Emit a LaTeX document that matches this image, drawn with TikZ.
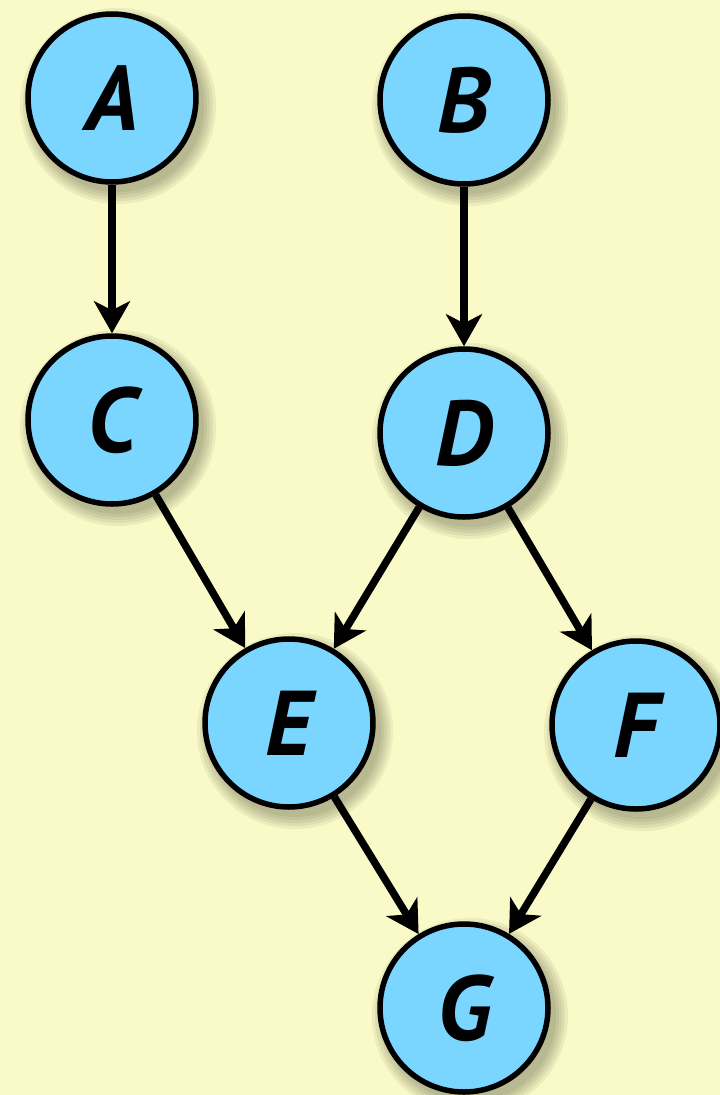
\documentclass[tikz,border=0pt]{standalone}
\usepackage{fontspec}
\setmainfont{PT Sans}
\usetikzlibrary{arrows.meta}
\definecolor{bgcol}{RGB}{250,250,200}
\definecolor{nodecol}{RGB}{122,213,255}
\tikzset{
  vertex/.style={circle, draw=black, line width=5.5pt, fill=nodecol, minimum size=168pt, inner sep=0pt,
    font=\fontsize{92}{92}\selectfont\bfseries\itshape},
  link/.style={line width=7.5pt, -{Stealth[length=32pt,width=36pt,inset=9pt]}, shorten >=0pt}
}
\begin{document}
\begin{tikzpicture}[x=1pt,y=-1pt]
\fill[bgcol] (0,0) rectangle (720,1095);
\useasboundingbox (0,0) rectangle (720,1095);
% soft shadows
\foreach \cx/\cy in {112/98,464/100,112/420,464/433,289/723,636/725,464/1008}{
  \foreach \r in {98,95,92,89,86}{
    \fill[black!70!olive,opacity=0.08] (\cx+6,\cy+8) circle[radius=\r];
  }
}
\node[vertex] (A) at (112,98) {A};
\node[vertex] (B) at (464,100) {B};
\node[vertex] (C) at (112,420) {C};
\node[vertex] (D) at (464,433) {D};
\node[vertex] (E) at (289,723) {E};
\node[vertex] (F) at (636,725) {F};
\node[vertex] (G) at (464,1008) {G};
\draw[link] (A) -- (C);
\draw[link] (B) -- (D);
\draw[link] (C) -- (E);
\draw[link] (D) -- (E);
\draw[link] (D) -- (F);
\draw[link] (E) -- (G);
\draw[link] (F) -- (G);
\end{tikzpicture}
\end{document}
